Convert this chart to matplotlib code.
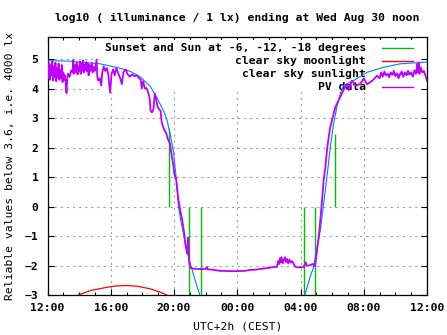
import matplotlib
matplotlib.use('Agg')
import matplotlib.pyplot as plt
from matplotlib.patches import Rectangle
from matplotlib.ticker import FixedLocator, MultipleLocator

### data (hours after Tue noon, log10 lx)
pv_t = [0.00, 0.05, 0.10, 0.15, 0.20, 0.25, 0.30, 0.35, 0.40, 0.45, 0.50, 0.55, 0.60, 0.65,
        0.70, 0.75, 0.80, 0.85, 0.90, 0.95, 1.00, 1.05, 1.10, 1.15, 1.20, 1.25, 1.30, 1.40,
        1.50, 1.60, 1.63, 1.66, 1.75, 1.80, 1.85, 1.90, 1.95, 2.00, 2.05, 2.10, 2.15, 2.20,
        2.25, 2.30, 2.35, 2.40, 2.45, 2.50, 2.55, 2.60, 2.65, 2.70, 2.80, 2.85, 2.90, 3.00,
        3.10, 3.15, 3.20, 3.30, 3.40, 3.45, 3.55, 3.65, 3.75, 3.85, 3.96, 4.05, 4.15, 4.25,
        4.35, 4.45, 4.60, 4.70, 4.80, 4.95, 5.05, 5.20, 5.35, 5.50, 5.65, 5.80, 5.90, 5.96,
        6.05, 6.15, 6.25, 6.35, 6.45, 6.52, 6.60, 6.70, 6.78, 6.85, 6.95, 7.05, 7.15, 7.22,
        7.35, 7.50, 7.60, 7.75, 7.87, 7.96, 8.02, 8.13, 8.27, 8.40, 8.52, 8.65, 8.71, 8.83,
        8.89, 8.95, 9.02, 9.13, 9.50, 9.98, 10.08, 10.12, 10.40, 10.90, 11.50, 12.00, 12.50,
        12.80, 13.20, 13.40, 13.70, 14.00, 14.30, 14.50, 14.60, 14.65, 14.70, 14.75, 14.80,
        14.88, 14.95, 15.02, 15.08, 15.15, 15.22, 15.30, 15.38, 15.45, 15.55, 15.65, 15.75,
        16.05, 16.20, 16.32, 16.40, 16.55, 16.72, 16.80, 16.92, 17.02, 17.15, 17.25, 17.36,
        17.46, 17.57, 17.67, 17.78, 17.88, 17.99, 18.20, 18.50, 18.70, 18.94, 19.05, 19.25,
        19.50, 19.78, 20.00, 20.20, 20.40, 20.60, 20.84, 21.00, 21.10, 21.20, 21.30, 21.40,
        21.50, 21.60, 21.70, 21.80, 21.90, 22.00, 22.10, 22.20, 22.30, 22.40, 22.50, 22.60,
        22.70, 22.80, 22.90, 23.00, 23.10, 23.20, 23.30, 23.38, 23.42, 23.48, 23.52, 23.60,
        23.70, 23.80, 23.90, 24.00]
pv_v = [4.90, 4.35, 4.85, 4.30, 4.80, 4.45, 4.92, 4.28, 4.75, 4.40, 4.88, 4.25, 4.70, 4.38,
        4.85, 4.30, 4.62, 4.35, 4.80, 4.22, 4.55, 4.30, 4.45, 4.20, 3.85, 4.35, 4.50, 4.40,
        4.62, 4.55, 4.97, 4.50, 4.80, 4.55, 4.88, 4.48, 4.75, 4.60, 4.92, 4.50, 4.85, 4.60,
        4.95, 4.55, 4.80, 4.62, 4.90, 4.58, 4.85, 4.45, 4.80, 4.60, 4.88, 4.55, 4.75, 4.60,
        4.98, 4.40, 4.27, 4.35, 4.10, 4.50, 4.75, 4.60, 4.70, 4.45, 3.86, 4.50, 4.65, 4.45,
        4.70, 4.55, 4.35, 4.15, 4.55, 4.65, 4.50, 4.40, 4.48, 4.42, 4.45, 4.35, 4.30, 4.00,
        4.25, 4.00, 4.02, 3.90, 3.70, 3.25, 3.19, 3.30, 3.83, 3.70, 3.40, 3.30, 3.25, 2.85,
        2.64, 2.50, 2.30, 2.13, 1.66, 1.40, 1.10, 0.95, 0.27, -0.14, -0.47, -0.92, -1.26, -1.60,
        -1.05, -1.83, -2.07, -2.10, -2.12, -2.12, -2.05, -2.13, -2.14, -2.18, -2.19, -2.19, -2.18,
        -2.15, -2.14, -2.12, -2.10, -2.08, -2.05, -2.05, -1.85, -1.95, -1.75, -1.90, -1.72,
        -1.92, -1.80, -1.72, -1.88, -1.78, -1.93, -1.80, -1.90, -1.85, -1.92, -2.03, -2.06,
        -2.06, -2.05, -1.89, -2.00, -2.00, -1.96, -1.95, -2.02, -1.60, -1.04, -0.47, 0.20,
        0.88, 1.33, 1.90, 2.35, 2.69, 2.92, 3.37, 3.70, 3.93, 4.16, 3.95, 4.27,
        4.10, 4.16, 4.35, 4.15, 4.21, 4.30, 4.44, 4.35, 4.55, 4.40, 4.58, 4.45,
        4.50, 4.38, 4.55, 4.47, 4.60, 4.42, 4.52, 4.35, 4.50, 4.58, 4.40, 4.55,
        4.45, 4.60, 4.48, 4.55, 4.40, 4.62, 4.50, 4.84, 4.55, 4.89, 4.50, 4.72,
        4.55, 4.60, 4.45, 4.27]

sun_t = [0.0, 1.4, 3.33, 4.6, 5.25, 5.85, 6.49, 6.91, 7.33, 7.54, 7.75, 7.92, 7.96, 8.13,
         8.28, 8.43, 8.6, 8.81, 8.97, 9.13, 9.34, 9.61, 9.66,
         16.17, 16.3, 16.6, 16.82, 17.04, 17.25, 17.46, 17.67, 17.88, 18.09, 18.3, 18.51,
         18.72, 19.35, 20.2, 21.24, 22.3, 23.76, 24.0]
sun_v = [4.95, 4.93, 4.84, 4.69, 4.58, 4.40, 4.08, 3.70, 3.25, 2.97, 2.47, 2.01, 1.90, 1.00,
         0.00, -0.47, -0.93, -1.49, -1.83, -2.11, -2.51, -2.96, -3.10,
         -3.10, -2.96, -2.40, -2.06, -1.38, -0.81, 0.09, 0.99, 2.01, 2.80, 3.37, 3.82,
         4.10, 4.27, 4.55, 4.72, 4.84, 4.89, 4.90]

moon_t = [1.95, 2.7, 3.74, 4.38, 5.0, 5.65, 6.49, 7.12, 7.54]
moon_v = [-3.0, -2.85, -2.74, -2.69, -2.68, -2.70, -2.79, -2.90, -3.0]

# sunset / sunrise and twilight marks
sunset_t = [7.71, 8.97, 9.73, 16.19, 16.89, 18.15]
sunset_lo = [0, -3, -3, -3, -3, 0]
sunset_hi = [2.65, 0, 0, 0, 0, 2.45]

tick_hours = [0, 4, 8, 12, 16, 20, 24]
tick_labels = ['12:00', '16:00', '20:00', '00:00', '04:00', '08:00', '12:00']

labels = ['Sunset and Sun at -6, -12, -18 degrees', 'clear sky moonlight',
          'clear sky sunlight', 'PV data']
colors = ['#00c000', '#ff0000', '#0080ff', '#c000ff']

### plot
plt.rcParams['font.family'] = 'DejaVu Sans Mono'
plt.rcParams['font.weight'] = 'bold'
plt.rcParams['font.size'] = 8.2

fig = plt.figure(figsize=(4.47, 3.35), dpi=100)
ax = fig.add_axes([0.1063, 0.1194, 0.8490, 0.7702])

ax.vlines(sunset_t, sunset_lo, sunset_hi, colors=colors[0], lw=1.0, zorder=3)
ax.plot(moon_t, moon_v, color=colors[1], lw=0.9, zorder=3)
ax.plot(sun_t, sun_v, color=colors[2], lw=0.8, zorder=3)
ax.plot(pv_t, pv_v, color=colors[3], lw=1.3, zorder=4)

ax.set_xlim(0, 24)
ax.set_ylim(-3, 5.75)
ax.xaxis.set_major_locator(FixedLocator(tick_hours))
ax.set_xticklabels(tick_labels)
ax.xaxis.set_minor_locator(MultipleLocator(1))
ax.yaxis.set_major_locator(FixedLocator(range(-3, 6)))
ax.tick_params(which='both', direction='in', top=True, right=True, width=0.8)
ax.tick_params(which='major', length=4.5, pad=6)
ax.tick_params(which='minor', length=2.2)
ax.tick_params(axis='y', pad=6.5)
for s in ax.spines.values():
    s.set_linewidth(0.9)

ax.set_axisbelow(True)
ax.grid(True, which='major', color='#a0a0a0', lw=0.8, linestyle=(0, (2, 3.5)))

# opaque key: white box hides the grid, curves still go over it
ax.add_patch(Rectangle((0.138, 0.787), 0.845, 0.2, transform=ax.transAxes,
                       facecolor='white', edgecolor='none', zorder=1))
rows = [0.956, 0.907, 0.857, 0.808]
for lab, c, yy in zip(labels, colors, rows):
    ax.text(0.839, yy, lab, transform=ax.transAxes, ha='right', va='center', zorder=2)
    ax.plot([0.881, 0.964], [yy, yy], transform=ax.transAxes, color=c, lw=1.0, zorder=2)

ax.set_xlabel('UTC+2h (CEST)', labelpad=6)
ax.set_ylabel('Reliable values below 3.6, i.e. 4000 lx', labelpad=7)
# title centred over the plot area, not the figure
ax.text(0.5, 1 + 19 / 258, 'log10 ( illuminance / 1 lx) ending at Wed Aug 30 noon',
        transform=ax.transAxes, ha='center', va='center')

fig.savefig('out.png', dpi=100)
